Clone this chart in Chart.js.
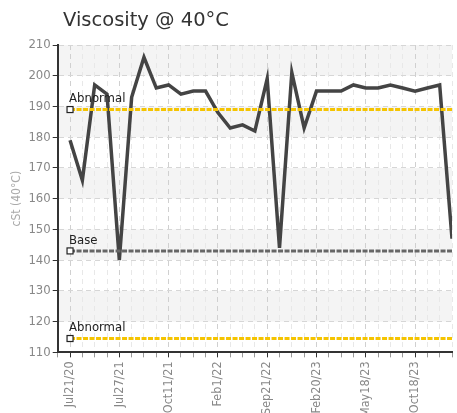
<!DOCTYPE html>
<html>
<head>
<meta charset="utf-8">
<script src="https://cdn.jsdelivr.net/npm/chart.js@4/dist/chart.umd.min.js"></script>
<style>
  html, body { margin: 0; padding: 0; background: #fff; }
  #wrap { position: relative; width: 457px; height: 413px; }
  #title { position: absolute; left: 63px; top: 8px; font: 19.5px "DejaVu Sans", Verdana, sans-serif; color: #333; }
</style>
</head>
<body>
<div id="wrap">
  <div id="title">Viscosity @ 40°C</div>
  <canvas id="chart" width="457" height="413"></canvas>
</div>
<script>
const tickLabels = ['Jul21/20', 'Jul27/21', 'Oct11/21', 'Feb1/22', 'Sep21/22', 'Feb20/23', 'May18/23', 'Oct18/23'];
const viscosity = [179, 166, 197, 194, 140, 193, 206, 196, 197, 194, 195, 195,
                   188, 183, 184, 182, 199, 144, 201, 183, 195, 195, 195, 197,
                   196, 196, 197, 196, 195, 196, 197, 147];
const abnormalHigh = 189;
const baseValue = 143;
const abnormalLow = 114.5;

// samples sit at x = 0..31, a date label on every 4th one
const points = viscosity.map((v, i) => ({ x: i, y: v }));
const flat = v => viscosity.map((_, i) => ({ x: i, y: v }));
const narrow = '"DejaVu Sans Condensed", "Liberation Sans Narrow", Roboto, sans-serif';
const isMajor = v => v >= 0 && v % 4 === 0;

function refLine(value, color, name) {
  return {
    label: name, data: flat(value), borderColor: color, borderWidth: 3,
    borderDash: [5, 1.5], pointRadius: 0, fill: false, order: 0
  };
}

const bands = {
  id: 'bands',
  beforeDraw(chart) {
    const { ctx, chartArea: a, scales: { y } } = chart;
    ctx.save();
    ctx.fillStyle = '#f4f4f4';
    for (let v = 120; v < 210; v += 20) {
      const top = y.getPixelForValue(v + 10), bot = y.getPixelForValue(v);
      ctx.fillRect(a.left, top, a.right - a.left, bot - top);
    }
    ctx.restore();
  }
};

const refLabels = {
  id: 'refLabels',
  afterDatasetsDraw(chart) {
    const { ctx, scales: { x, y } } = chart;
    const px = x.getPixelForValue(0);
    ctx.save();
    ctx.font = 'condensed 13px ' + narrow;
    ctx.textBaseline = 'bottom';
    [[abnormalHigh, 'Abnormal'], [baseValue, 'Base'], [abnormalLow, 'Abnormal']].forEach(([v, t]) => {
      const py = y.getPixelForValue(v);
      ctx.fillStyle = '#fff';
      ctx.fillRect(px - 3, py - 3, 6, 6);
      ctx.strokeStyle = '#222';
      ctx.lineWidth = 1.2;
      ctx.strokeRect(px - 3, py - 3, 6, 6);
      ctx.fillStyle = '#222';
      ctx.fillText(t, px - 1, py - 4);
    });
    ctx.restore();
  }
};

const tickFont = { family: narrow, size: 12.5, style: 'condensed' };

new Chart(document.getElementById('chart'), {
  type: 'line',
  data: {
    datasets: [
      refLine(abnormalHigh, '#f5c400', 'Abnormal'),
      refLine(baseValue, '#666', 'Base'),
      refLine(abnormalLow, '#f5c400', 'Abnormal'),
      { label: 'cSt', data: points, borderColor: '#444', borderWidth: 3.5, pointRadius: 0, tension: 0, order: 1 }
    ]
  },
  options: {
    responsive: false,
    animation: false,
    layout: { padding: { top: 45, right: 5, left: 8, bottom: -8 } },
    plugins: { legend: { display: false }, tooltip: { enabled: false } },
    scales: {
      x: {
        type: 'linear',
        min: -1, max: viscosity.length - 1,
        afterFit(scale) { scale.paddingRight = 0; scale.paddingLeft = 0; },
        border: { color: '#333', width: 2, dash: [5, 4] },
        grid: {
          color: c => isMajor(c.tick.value) ? '#d0d0d0' : '#e8e8e8',
          tickColor: c => isMajor(c.tick.value) ? '#333' : '#999',
          tickLength: 5
        },
        ticks: {
          stepSize: 1, autoSkip: false, maxRotation: 90, minRotation: 90,
          color: '#888', font: tickFont, padding: 4,
          callback: v => isMajor(v) ? tickLabels[v / 4] : ''
        }
      },
      y: {
        min: 110, max: 210,
        border: { color: '#333', width: 2, dash: [5, 4] },
        grid: { color: '#d6d6d6', tickColor: '#333', tickLength: 5 },
        ticks: { stepSize: 10, color: '#888', font: { family: narrow, size: 13, style: 'condensed' }, padding: 2 },
        title: { display: true, text: 'cSt (40°C)', color: '#aaa', font: { family: narrow, size: 12, style: 'condensed' }, padding: 2 }
      }
    }
  },
  plugins: [bands, refLabels]
});
</script>
</body>
</html>
